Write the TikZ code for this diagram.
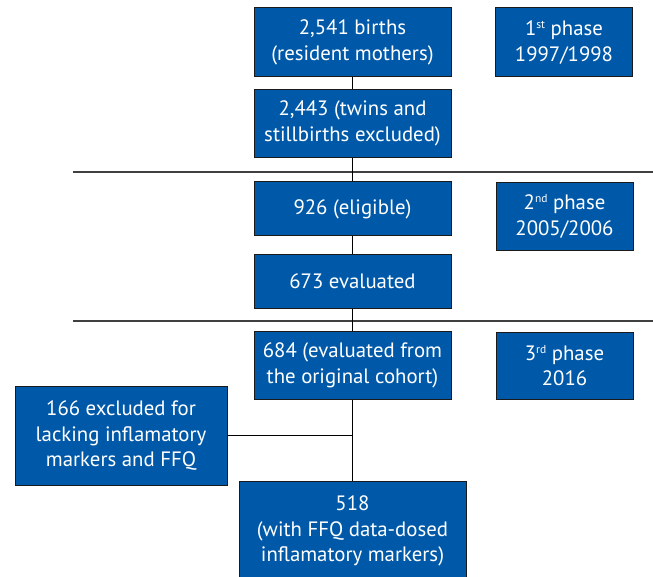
\documentclass[tikz,border=0pt]{standalone}
\usepackage{fontspec}
\setmainfont{PT Sans}
\definecolor{boxblue}{HTML}{0059A8}
\definecolor{edgecol}{HTML}{1A1A1A}
\newcommand{\ordsup}[1]{\raisebox{0.34em}{\fontsize{11.5}{11.5}\selectfont #1}}
\begin{document}
\begin{tikzpicture}[x=1pt,y=-1pt,
  box/.style={draw=edgecol,line width=1pt,fill=boxblue,text=white,align=center,
    inner sep=0pt,font=\fontsize{20.8}{25.5}\selectfont},
  conn/.style={draw=black,line width=1pt},
  sep/.style={draw=black!75,line width=1.2pt}]
\useasboundingbox (0,0) rectangle (653,577);
\begin{scope}
\clip (0,0) rectangle (653,577);
\node[box,minimum width=197pt,minimum height=69pt] (a) at (352.5,42.5) {2,541 births\\(resident mothers)};
\node[box,minimum width=137pt,minimum height=69pt] (p1) at (564,42.5) {1\ordsup{st} phase\\1997/1998};
\node[box,minimum width=197pt,minimum height=68pt] (b) at (352.5,123.5) {2,443 (twins and\\stillbirths excluded)};
\node[box,minimum width=197pt,minimum height=54pt] (c) at (352.5,209) {926 (eligible)};
\node[box,minimum width=137pt,minimum height=68pt] (p2) at (564.5,216.5) {2\ordsup{nd} phase\\2005/2006};
\node[box,minimum width=197pt,minimum height=53pt] (d) at (352.5,281.5) {673 evaluated};
\node[box,minimum width=197pt,minimum height=68pt] (e) at (352.5,365.5) {684 (evaluated from\\the original cohort)};
\node[box,minimum width=137pt,minimum height=67pt] (p3) at (564.5,365.5) {3\ordsup{rd} phase\\2016};
\node[box,minimum width=212pt,minimum height=99pt] (f) at (121,435.7) {166 excluded for\\lacking inflamatory\\markers and FFQ};
\node[box,minimum width=227pt,minimum height=99pt,anchor=north] (g) at (352.5,481) {518\\(with FFQ data-dosed\\inflamatory markers)};
\coordinate (l1a) at (73,172);
\coordinate (l1b) at (653,172);
\coordinate (l2a) at (73,321);
\coordinate (l2b) at (653,321);
\draw[sep] (l1a) -- (l1b);
\draw[sep] (l2a) -- (l2b);
\draw[conn] (a) -- (b);
\draw[conn] (b) -- (c);
\draw[conn] (c) -- (d);
\draw[conn] (d) -- (e);
\draw[conn] (e) -- (g);
\draw[conn] (f.east) -- (f.east -| e.south);
\end{scope}
\end{tikzpicture}
\end{document}
